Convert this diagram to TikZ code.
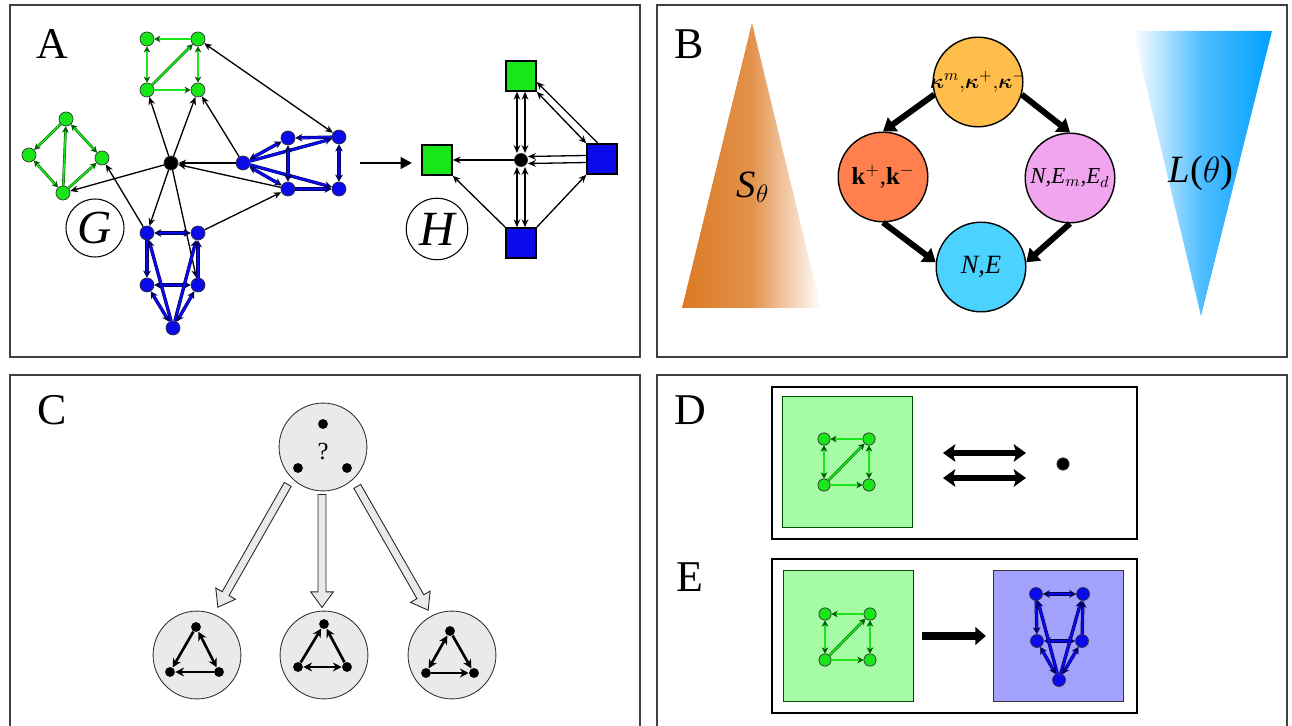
\documentclass[tikz,border=0pt]{standalone}
\usepackage{fontspec}
\setmainfont{Liberation Serif}
\usepackage{amsmath}
\usetikzlibrary{arrows.meta,shapes.arrows,calc}
\definecolor{gnode}{RGB}{25,230,25}
\definecolor{bnode}{RGB}{10,10,235}
\definecolor{gpale}{RGB}{165,252,165}
\definecolor{bpale}{RGB}{162,162,252}
\definecolor{sorange}{RGB}{220,122,35}
\definecolor{lblue}{RGB}{0,160,255}
\definecolor{ckap}{RGB}{255,190,75}
\definecolor{ckk}{RGB}{255,128,78}
\definecolor{cnee}{RGB}{240,165,238}
\definecolor{cne}{RGB}{75,210,255}
\definecolor{cgray}{RGB}{234,234,234}
% wide outlined arrow from one point to another
\newcommand{\hollowarrow}[2]{%
  \path let \p1=($(#2)-(#1)$), \n1={atan2(\y1,\x1)}, \n2={veclen(\x1,\y1)} in
    node[fatarrow, rotate=\n1, minimum height=\n2, anchor=tail] at (#1) {};}
\begin{document}
\begin{tikzpicture}[x=0.02cm, y=-0.02cm,
  panel/.style={draw=black!75, line width=0.8pt},
  lab/.style={font=\fontsize{25}{30}\selectfont, inner sep=0pt},
  gn/.style={circle, draw=black!80, line width=0.4pt, fill=gnode, minimum size=8pt, inner sep=0pt},
  gs/.style={gn, minimum size=7pt},
  bn/.style={gn, fill=bnode},
  kn/.style={gn, fill=black},
  ge/.style={draw=green!35!black, double=gnode, double distance=0.9pt, line width=0.3pt, -{Stealth[length=3.5pt,width=3.8pt]}},
  ge2/.style={ge, {Stealth[length=3.5pt,width=3.8pt]}-{Stealth[length=3.5pt,width=3.8pt]}},
  be/.style={draw=blue!35!black, double=bnode, double distance=1.3pt, line width=0.3pt, -{Stealth[length=4pt,width=4.4pt]}},
  be2/.style={be, {Stealth[length=4pt,width=4.4pt]}-{Stealth[length=4pt,width=4.4pt]}},
  ke/.style={line width=0.75pt, -{Stealth[length=4.5pt,width=3.8pt]}},
  ke2/.style={ke, {Stealth[length=4.5pt,width=3.8pt]}-{Stealth[length=4.5pt,width=3.8pt]}},
  hsq/.style={draw=black, line width=0.9pt, minimum size=17pt, inner sep=0pt},
  bc/.style={circle, draw=black, line width=0.8pt, minimum size=51pt, inner sep=0pt, font=\fontsize{13}{15}\selectfont},
  bigarrow/.style={line width=3.4pt, -{Triangle[length=7pt,width=9.5pt]}},
  gc/.style={circle, draw=black!80, line width=0.5pt, fill=cgray, minimum size=50pt, inner sep=0pt},
  dot/.style={circle, fill=black, minimum size=5.6pt, inner sep=0pt},
  te/.style={line width=1.5pt, -{Stealth[length=5pt,width=5pt]}},
  te2/.style={te, {Stealth[length=5pt,width=5pt]}-{Stealth[length=5pt,width=5pt]}},
  fatarrow/.style={single arrow, draw=black!85, line width=0.5pt, fill=cgray, inner sep=0pt, inner ysep=2pt, single arrow head extend=4.2pt, single arrow tip angle=72},
  pbox/.style={draw=black!80, line width=0.7pt, inner sep=0pt, minimum width=74pt, minimum height=74.5pt}
]
\useasboundingbox (0,0) rectangle (1292,726);
% panels
\draw[panel] (10,5) rectangle (640,357);
\draw[panel] (657,5) rectangle (1287,357);
\draw[panel] (10,730) -- (10,375) -- (640,375) -- (640,730);
\draw[panel] (657,730) -- (657,375) -- (1287,375) -- (1287,730);
\node[lab] (labA) at (52,44) {A};
\node[lab] (labB) at (689,44) {B};
\node[lab] (labC) at (52,410) {C};
\node[lab] (labD) at (690,410) {D};
\node[lab] (labE) at (690,577) {E};
%
% A: network G
\foreach \n/\x/\y in {g1/147/39, g2/198/39, g3/147/90, g4/198/90, l1/66/119, l2/29/155, l3/102/158, l4/63/193}
  \node[gn] (\n) at (\x,\y) {};
\foreach \n/\x/\y in {b1/243/163, b2/288/138, b3/339/137, b4/288/189, b5/339/189, d1/147/233, d2/198/233, d3/147/285, d4/198/285, d5/173/328}
  \node[bn] (\n) at (\x,\y) {};
\node[kn] (hub) at (171,163) {};
\draw[ge] (l1) -- (l2);
\draw[ge2] (l1) -- (l3);
\draw[ge2] (l2) -- (l4);
\draw[ge] (l4) -- (l1);
\draw[ge] (l4) -- (l3);
\draw[be2] (b1) -- (b2);
\draw[be] (b3) -- (b2);
\draw[be] (b1) -- (b3);
\draw[be] (b1) -- (b5);
\draw[be2] (b1) -- (b4);
\draw[be2] (b2) -- (b4);
\draw[be2] (b3) -- (b5);
\draw[be] (b4) -- (b5);
\foreach \a/\b in {hub/g3, hub/g4, b1/g4, hub/l4, d1/l3, b1/hub, b4/hub, hub/d1, hub/d4, d2/b4}
  \draw[ke] (\a) -- (\b);
\draw[ke2] (g2) -- (b3);
\node[circle, draw, line width=0.6pt, minimum size=33pt, inner sep=0pt, font=\fontsize{27}{30}\selectfont\itshape] (G) at (95,228) {G};
%
% A: reduced network H
\node[hsq, fill=gnode] (h1) at (437,160) {};
\node[hsq, fill=gnode] (h2) at (521,76) {};
\node[hsq, fill=bnode] (h3) at (602,159) {};
\node[hsq, fill=bnode] (h4) at (521,243) {};
\node[kn, minimum size=7.5pt] (hc) at (521,160) {};
\draw[ke] (hc) -- (h1);
\draw[ke2] ([xshift=-2.3pt]h2.south) -- ([xshift=-2.3pt]hc.north);
\draw[ke2] ([xshift=2.3pt]h2.south) -- ([xshift=2.3pt]hc.north);
\draw[ke2] ([xshift=-2.3pt]h4.north) -- ([xshift=-2.3pt]hc.south);
\draw[ke2] ([xshift=2.3pt]h4.north) -- ([xshift=2.3pt]hc.south);
\draw[ke] ([yshift=2pt]h3.west) -- ([yshift=2pt]hc.east);
\draw[ke] ([yshift=-2pt]h3.west) -- ([yshift=-2pt]hc.east);
\draw[ke] ([xshift=-2.3pt]h3.north) -- ([yshift=-3.4pt]h2.east);
\draw[ke2] (h3.north west) -- (h2.south east);
\draw[ke] (h4.north west) -- (h1.south east);
\draw[ke] (h4.north east) -- (h3.south west);
\node[circle, draw, line width=0.6pt, minimum size=35pt, inner sep=0pt, font=\fontsize{28}{30}\selectfont\itshape] (H) at (437,229) {H};
\coordinate (mapA) at (360,163);
\coordinate (mapB) at (412,163);
\draw[line width=1.7pt, -{Triangle[length=6.5pt,width=6.5pt]}] (mapA) -- (mapB);
%
% B
\shade[left color=sorange, right color=white, middle color=sorange!82] (752,23) -- (821,308) -- (682,308) -- cycle;
\node[font=\fontsize{22}{25}\selectfont] (S) at (753,187) {\textit{S}$_\theta$};
\shade[left color=white, right color=lblue, middle color=lblue!70] (1133,31) -- (1272,31) -- (1201,316) -- cycle;
\node[font=\fontsize{22}{25}\selectfont] (L) at (1201,173) {\textit{L}($\theta$)};
\node[bc, fill=ckap, font=\fontsize{12.5}{15}\selectfont] (kap) at (978,82) {\makebox[0pt][c]{$\boldsymbol{\kappa}^m{,}\boldsymbol{\kappa}^+{,}\boldsymbol{\kappa}^-$}};
\node[bc, fill=ckk, font=\fontsize{14}{16}\selectfont] (kk) at (883,177) {\textbf{k}$^+$,\textbf{k}$^-$};
\node[bc, fill=cnee] (nee) at (1070,178) {\textit{N,E}$_{m}$\textit{,E}$_{d}$};
\node[bc, fill=cne, font=\fontsize{15}{17}\selectfont] (ne) at (981,267) {\textit{N,E}};
\draw[bigarrow] (kap.196) -- (kk.north);
\draw[bigarrow] (kap.-16) -- (nee.north);
\draw[bigarrow] (kk.south) -- (ne.174);
\draw[bigarrow] (nee.south) -- (ne.6);
%
% C
\node[gc] (q) at (323,447) {};
\node[font=\fontsize{14}{16}\selectfont] (qm) at (323,452) {?};
\node[dot] (q1) at (323,424) {};
\node[dot] (q2) at (298,468) {};
\node[dot] (q3) at (347,468) {};
\node[gc] (t1) at (197,655) {};
\node[gc] (t2) at (324,655) {};
\node[gc] (t3) at (452,655) {};
\foreach \n/\x/\y in {t1a/196/627, t1b/170/672, t1c/219/672, t2a/324/624, t2b/298/667, t2c/347/667, t3a/450/631, t3b/426/673, t3c/474/673}
  \node[dot] (\n) at (\x,\y) {};
\draw[te] (t1a) -- (t1b);
\draw[te2] (t1a) -- (t1c);
\draw[te] (t1c) -- (t1b);
\draw[te] (t2b) -- (t2a);
\draw[te] (t2c) -- (t2a);
\draw[te2] (t2b) -- (t2c);
\draw[te2] (t3b) -- (t3a);
\draw[te] (t3a) -- (t3c);
\draw[te] (t3b) -- (t3c);
\coordinate (fa1) at (288,484);
\coordinate (fb1) at (218,607);
\coordinate (fa2) at (322,494);
\coordinate (fb2) at (322,607);
\coordinate (fa3) at (357,486);
\coordinate (fb3) at (428,610);
\hollowarrow{fa1}{fb1}
\hollowarrow{fa2}{fb2}
\hollowarrow{fa3}{fb3}
%
% D
\draw[line width=0.7pt] (772,387) rectangle (1137,539);
\node[pbox, fill=gpale, draw=green!30!black] (dsq) at (847.5,462) {};
\foreach \n/\x/\y in {dg1/824/439, dg2/869/439, dg3/824/485, dg4/869/485}
  \node[gs] (\n) at (\x,\y) {};
\coordinate (dl1) at (943,453);
\coordinate (dr1) at (1026,453);
\coordinate (dl2) at (943,478);
\coordinate (dr2) at (1026,478);
\draw[line width=3.2pt, {Stealth[length=7pt,width=10pt,inset=1.5pt]}-{Stealth[length=7pt,width=10pt,inset=1.5pt]}] (dl1) -- (dr1);
\draw[line width=3.2pt, {Stealth[length=7pt,width=10pt,inset=1.5pt]}-{Stealth[length=7pt,width=10pt,inset=1.5pt]}] (dl2) -- (dr2);
\node[kn, minimum size=7pt] (ddot) at (1063,464) {};
%
% E
\draw[line width=0.7pt] (772,559) rectangle (1137,713);
\node[pbox, fill=gpale, draw=green!30!black] (esq) at (848.5,636) {};
\node[pbox, fill=bpale] (fsq) at (1058.5,636) {};
\foreach \n/\x/\y in {eg1/825/614, eg2/870/614, eg3/825/660, eg4/870/660}
  \node[gs] (\n) at (\x,\y) {};
\foreach \n/\x/\y in {eb1/1036/594, eb2/1083/594, eb3/1037/641, eb4/1082/641, eb5/1059/680}
  \node[bn, minimum size=7.4pt] (\n) at (\x,\y) {};
\draw[line width=4.4pt, shorten <=4.5pt, shorten >=4pt, -{Triangle[length=6pt,width=10pt]}] (esq) -- (fsq);
%
% shared motifs
\foreach \p in {g,dg,eg}{
  \draw[ge] (\p2) -- (\p1);
  \draw[ge2] (\p1) -- (\p3);
  \draw[ge] (\p3) -- (\p2);
  \draw[ge2] (\p2) -- (\p4);
  \draw[ge] (\p3) -- (\p4);
}
\foreach \p in {d,eb}{
  \draw[be2] (\p1) -- (\p2);
  \draw[be] (\p1) -- (\p3);
  \draw[be2] (\p3) -- (\p4);
  \draw[be] (\p4) -- (\p2);
  \draw[be] (\p5) -- (\p1);
  \draw[be] (\p5) -- (\p2);
  \draw[be2] (\p5) -- (\p3);
  \draw[be2] (\p5) -- (\p4);
}
\end{tikzpicture}
\end{document}
